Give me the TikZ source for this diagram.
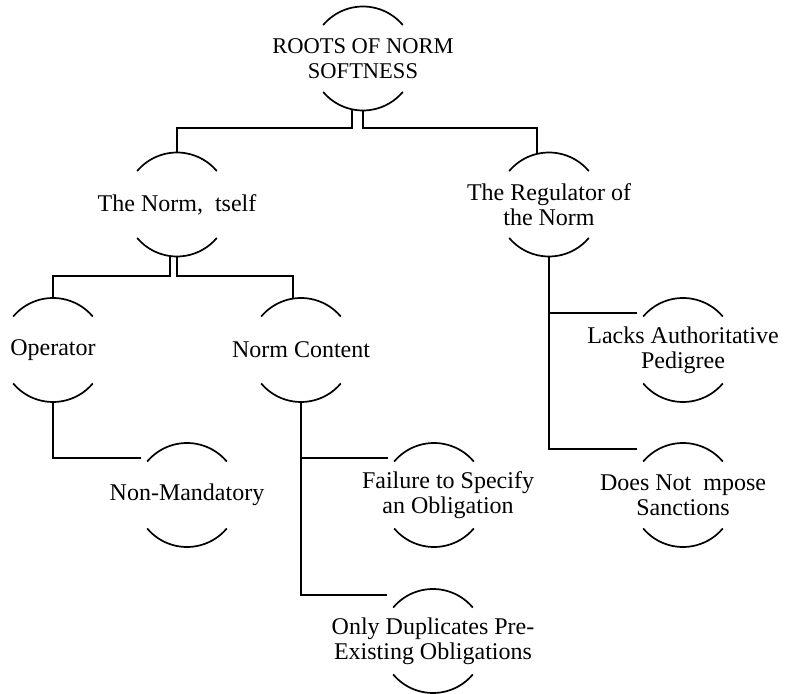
\documentclass[tikz,border=0pt]{standalone}
\usepackage{fontspec}
\setmainfont{Liberation Serif}

\begin{document}
\begin{tikzpicture}[x=1pt,y=1pt,
  ring/.style={circle,minimum size=104pt,inner sep=0pt,outer sep=0pt},
  txt/.style={align=center,font=\fontsize{24}{25}\selectfont},
  link/.style={line width=1.7pt}]
\useasboundingbox (0,0) rectangle (786,693);

\node[ring,label={[txt,font=\fontsize{22.5}{25}\selectfont]center:{ROOTS OF NORM\\SOFTNESS}}] (root) at (363,634.5) {};
\node[ring,label={[txt]center:{The Norm,~ tself}}] (norm) at (177,488.5) {};
\node[ring,label={[txt]center:{The Regulator of\\the Norm}}] (reg) at (549,488.5) {};
\node[ring,label={[txt]center:{Operator}}] (oper) at (53,343) {};
\node[ring,label={[txt]center:{Norm Content}}] (content) at (301,343) {};
\node[ring,label={[txt]center:{Lacks Authoritative\\Pedigree}}] (lacks) at (683,343) {};
\node[ring,label={[txt]center:{Non-Mandatory}}] (nonmand) at (187,198) {};
\node[ring,label={[txt,xshift=14pt]center:{Failure to Specify\\an Obligation}}] (fail) at (434,198) {};
\node[ring,label={[txt]center:{Does Not~ mpose\\Sanctions}}] (doesnot) at (683,198) {};
\node[ring,label={[txt]center:{Only Duplicates Pre-\\Existing Obligations}}] (dupl) at (433,52) {};

% open circles: top and bottom arcs only
\foreach \n in {root,norm,reg,oper,content,lacks,nonmand,fail,doesnot,dupl}{
  \draw[link] (\n.140) arc[start angle=140,end angle=40,radius=52pt];
  \draw[link] (\n.220) arc[start angle=220,end angle=320,radius=52pt];
}

% branches
\draw[link] (root.-102) -- ++(0,-18.6) -| (norm.north);
\draw[link] (root.south) -- ++(0,-17.5) -| (reg.103);
\draw[link] (norm.-98) -- ++(0,-20) -| (oper.north);
\draw[link] (norm.south) -- ++(0,-19.5) -| (content.99);

\draw[link] (oper.south) |- ([xshift=-9pt]nonmand.north west);
\draw[link] (content.south) |- ([xshift=-9pt]fail.north west);
\draw[link] (content.south) |- ([xshift=-9pt,yshift=9pt]dupl.north west);
\draw[link] (reg.south) |- ([xshift=-9pt]lacks.north west);
\draw[link] (reg.south) |- ([xshift=-9pt,yshift=9pt]doesnot.north west);

\end{tikzpicture}
\end{document}
